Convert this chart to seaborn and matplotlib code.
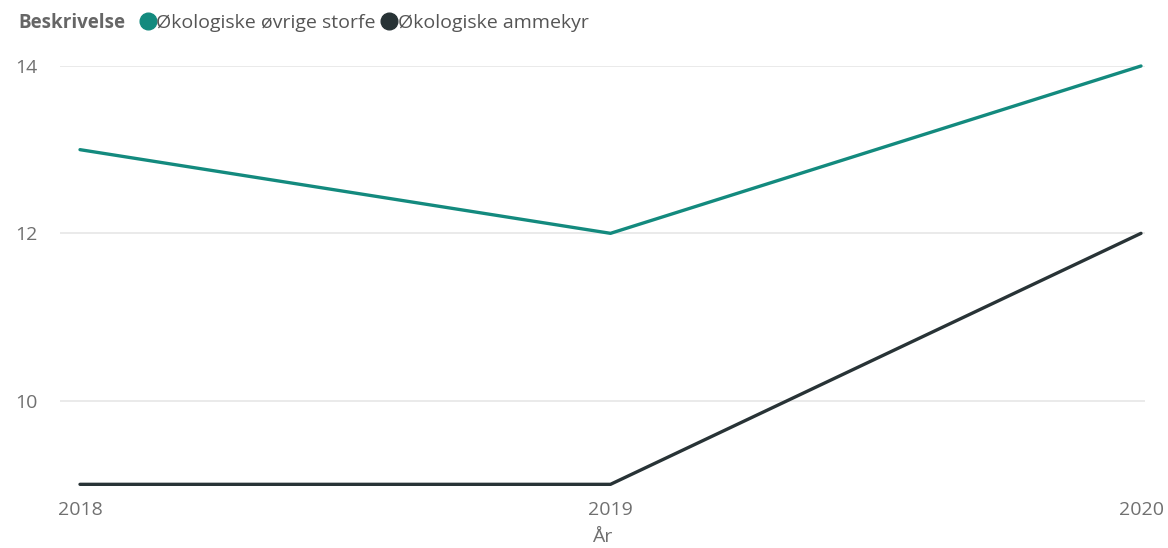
import pandas as pd
import seaborn as sns
import matplotlib.pyplot as plt
from matplotlib.lines import Line2D

years = [2018, 2019, 2020]
ovrige_storfe = [13, 12, 14]
ammekyr = [9, 9, 12]
series_names = ["Økologiske øvrige storfe", "Økologiske ammekyr"]
colors = ["#138A7E", "#283336"]

df = pd.DataFrame({
    "År": years * 2,
    "Verdi": ovrige_storfe + ammekyr,
    "Beskrivelse": [series_names[0]] * 3 + [series_names[1]] * 3,
})

sns.set_style("white")
plt.rcParams["font.family"] = ["Open Sans", "DejaVu Sans"]

fig = plt.figure(figsize=(11.68, 5.48), dpi=100)
ax = fig.add_axes([60 / 1168, 1 - 486 / 548, 1085 / 1168, 420 / 548])

sns.lineplot(data=df, x="År", y="Verdi", hue="Beskrivelse", palette=colors,
             linewidth=2.4, ax=ax, legend=False)
for line in ax.lines:
    line.set_clip_on(False)

ax.set_xlim(2018 - 20 / 530.5, 2020 + 4 / 530.5)
ax.set_ylim(8.98, 14.0)
ax.set_yticks([10, 12, 14])
ax.set_xticks(years)
ax.set_xticklabels([str(y) for y in years])
ax.yaxis.grid(True, color="#E6E6E6", linewidth=1.2)
ax.set_axisbelow(True)
for s in ax.spines.values():
    s.set_visible(False)
ax.tick_params(axis="both", length=0, labelsize=14, colors="#707070")
ax.tick_params(axis="y", pad=16)
ax.tick_params(axis="x", pad=11)
ax.set_ylabel("")
ax.set_xlabel("År", fontsize=14, color="#707070", labelpad=6)

# legend along the top
fig.text(18 / 1168, 1 - 23 / 548, "Beskrivelse", fontsize=13.5, fontweight="bold",
         color="#666666", va="center", ha="left")
handles = [Line2D([], [], marker="o", linestyle="", markersize=12, color=c) for c in colors]
fig.legend(handles, series_names, loc="center left", bbox_to_anchor=(130 / 1168, 1 - 23 / 548),
           ncol=2, frameon=False, fontsize=14, handlelength=0.8, handletextpad=0.05,
           columnspacing=0.3, borderpad=0, labelcolor="#555555")

fig.savefig("out.png", dpi=100)
